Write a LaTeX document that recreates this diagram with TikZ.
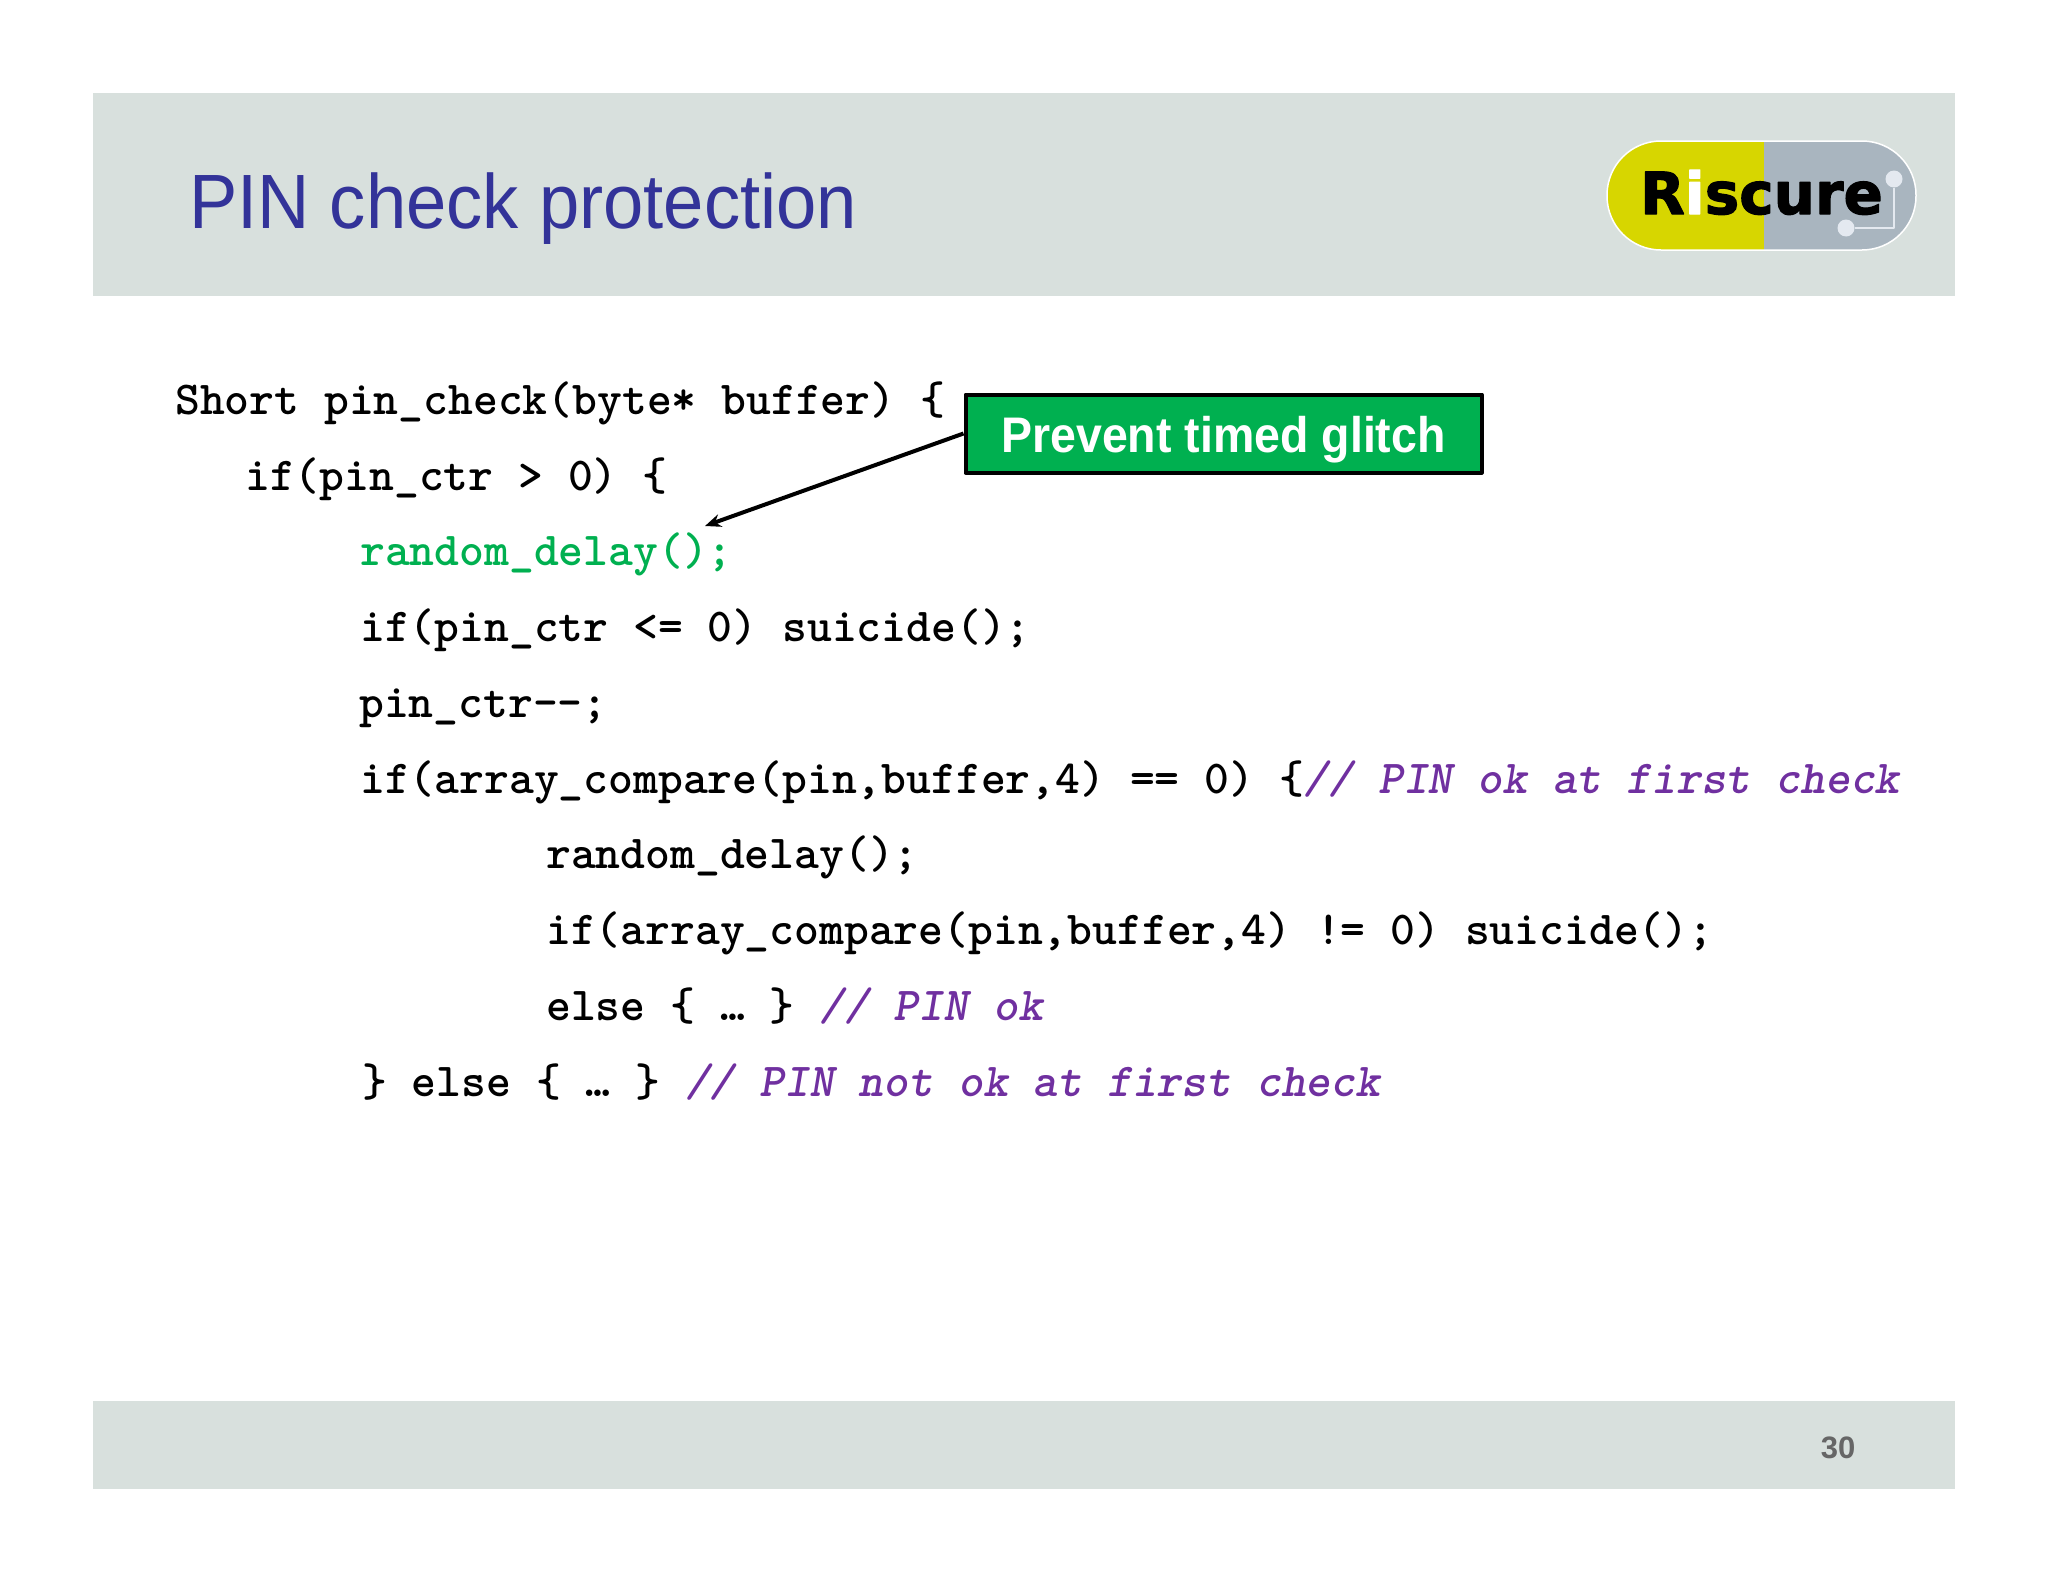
\documentclass[tikz,border=0pt]{standalone}
\usepackage{fontspec}
\usetikzlibrary{arrows.meta}
\setmainfont{Liberation Sans}
\newfontfamily\titlefont[FakeStretch=0.94]{Liberation Sans}
\newfontfamily\calloutfont[FakeStretch=0.93]{Liberation Sans}
\newfontfamily\logofont[BoldFeatures={FakeBold=2}]{DejaVu Sans}
\definecolor{bandgray}{HTML}{D8E0DD}
\definecolor{titleblue}{HTML}{333399}
\definecolor{delaygreen}{HTML}{00B050}
\definecolor{notepurple}{HTML}{7030A0}
\definecolor{logoyellow}{HTML}{D7D600}
\definecolor{logogray}{HTML}{A9B5BF}
\definecolor{logodot}{HTML}{E4E9F0}
\tikzset{
codeline/.style={anchor=base west,inner sep=0pt,font=\fontsize{47.3}{47.3}\selectfont\ttfamily\bfseries\addfontfeature{FakeBold=0.9}}
}
\begin{document}
\begin{tikzpicture}[x=1pt,y=-1pt,line join=round,>=stealth]
\useasboundingbox (0,0) rectangle (2048,1582);
\fill[bandgray] (93,93) rectangle (1955,295.5);
\fill[bandgray] (93,1401) rectangle (1955,1489);
\node (title) at (189,228) [anchor=base west,inner sep=0pt,titleblue,font=\fontsize{77}{77}\selectfont\titlefont] {PIN check protection};
% logo
\begin{scope}
\clip[rounded corners=54pt] (1607,141) rectangle (1916,250);
\fill[logoyellow] (1607,141) rectangle (1764,250);
\fill[logogray] (1764,141) rectangle (1916,250);
\end{scope}
\draw[white,line width=1.5pt,rounded corners=54pt] (1607,141) rectangle (1916,250);
\node (dotone) at (1894,179) [circle,fill=logodot,inner sep=0pt,minimum size=17pt] {};
\node (dottwo) at (1846,228) [circle,fill=logodot,inner sep=0pt,minimum size=17pt] {};
\coordinate (bend) at (1894,228);
\draw[logodot,line width=2pt] (dottwo)--(bend)--(dotone);
\node (logo) at (1640,214) [anchor=base west,inner sep=0pt,font=\fontsize{58}{58}\selectfont\logofont\bfseries] {R{\color{white}i}scure};
% code
\node (lineone) at (175,414) [codeline] {Short pin\_check(byte* buffer) \{};
\node (linetwo) at (245,490) [codeline] {if(pin\_ctr > 0) \{};
\node (linethree) at (360,565) [codeline,delaygreen] {random\_delay();};
\node (linefour) at (360,641) [codeline] {if(pin\_ctr <= 0) suicide();};
\node (linefive) at (359,717) [codeline] {pin\_ctr-{}-;};
\node (linesix) at (360,793) [codeline] {if(array\_compare(pin,buffer,4) == 0) \{\textcolor{notepurple}{\itshape // PIN ok at first check}};
\node (lineseven) at (546,868) [codeline] {random\_delay();};
\node (lineeight) at (546,944) [codeline] {if(array\_compare(pin,buffer,4) != 0) suicide();};
\node (linenine) at (546,1020) [codeline] {else \{ … \} \textcolor{notepurple}{\itshape // PIN ok}};
\node (lineten) at (362,1096) [codeline] {\} else \{ … \} \textcolor{notepurple}{\itshape // PIN not ok at first check}};
% callout
\node (glitch) at (1223.5,433.5) [draw=black,line width=4pt,fill=delaygreen,text=white,minimum width=516pt,minimum height=78pt,inner sep=0pt,text height=46pt,text depth=8pt,font=\fontsize{50}{50}\selectfont\calloutfont\bfseries] {Prevent timed glitch};
\coordinate (delay) at (705,526);
\draw[-{Stealth[length=16pt,width=13pt]},line width=4pt] (glitch.west)--(delay);
% page number
\node (pageno) at (1838,1458) [anchor=base,inner sep=0pt,black!60,font=\fontsize{31}{31}\selectfont\bfseries] {30};
\end{tikzpicture}
\end{document}
